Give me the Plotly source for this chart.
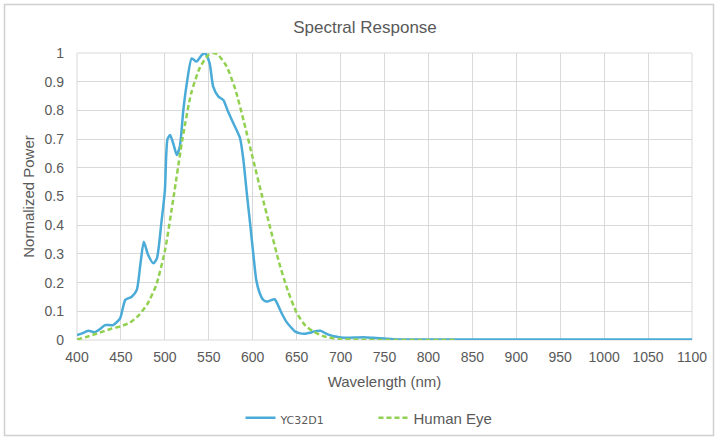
import plotly.graph_objects as go

# ---- data ----
yc_wavelength = [400, 405, 413, 420, 427, 432, 441, 449, 455, 462, 468, 472, 476, 481, 487, 491,
                 496, 500, 503, 506, 510, 513.5, 517, 521, 525, 530.6, 536, 542, 546, 551, 555,
                 561, 566.6, 572, 578, 585.6, 589.4, 593, 597, 601, 604, 608, 612, 616, 620, 625,
                 629, 633, 638, 643, 648, 654, 660, 665, 670, 677, 682, 688, 694, 700, 710, 720,
                 730, 740, 750, 760, 780, 800, 850, 900, 950, 1000, 1050, 1100]
yc_power = [0.017, 0.022, 0.032, 0.027, 0.040, 0.052, 0.052, 0.075, 0.140, 0.150, 0.174, 0.260,
            0.342, 0.296, 0.267, 0.285, 0.407, 0.520, 0.700, 0.714, 0.680, 0.645, 0.673, 0.800,
            0.894, 0.981, 0.970, 0.993, 0.999, 0.964, 0.883, 0.848, 0.836, 0.795, 0.755, 0.703,
            0.627, 0.520, 0.407, 0.290, 0.210, 0.163, 0.140, 0.134, 0.138, 0.142, 0.120, 0.093,
            0.065, 0.046, 0.030, 0.023, 0.022, 0.025, 0.030, 0.032, 0.025, 0.017, 0.012, 0.009,
            0.008, 0.009, 0.009, 0.007, 0.005, 0.003, 0.002, 0.002, 0.002, 0.002, 0.002, 0.002,
            0.002, 0.002]

eye_wavelength = [400, 410, 420, 430, 440, 450, 460, 470, 480, 490, 500, 510, 520, 530, 540, 550,
                  555, 560, 570, 580, 590, 600, 610, 620, 630, 640, 650, 660, 670, 680, 690, 700,
                  720, 750, 800, 830]
eye_power = [0.002, 0.010, 0.020, 0.030, 0.040, 0.048, 0.060, 0.085, 0.125, 0.190, 0.310, 0.500,
             0.700, 0.860, 0.950, 0.995, 1.000, 0.995, 0.955, 0.875, 0.760, 0.635, 0.510, 0.390,
             0.270, 0.172, 0.095, 0.050, 0.028, 0.014, 0.007, 0.003, 0.001, 0.0, 0.0, 0.0]

x_ticks = list(range(400, 1101, 50))
y_ticks = [round(i * 0.1, 1) for i in range(11)]
y_tick_text = ["0", "0.1", "0.2", "0.3", "0.4", "0.5", "0.6", "0.7", "0.8", "0.9", "1"]

TXT = "#595959"
GRID = "#d9d9d9"
FONT = "Liberation Sans, Arial, sans-serif"

fig = go.Figure()
fig.add_trace(go.Scatter(
    x=yc_wavelength, y=yc_power, mode="lines",
    name="<span style='font-family:DejaVu Sans;font-size:11px'>YC32D1</span>",
    line=dict(color="#4aabd8", width=2.5, shape="spline", smoothing=0.6),
))
fig.add_trace(go.Scatter(
    x=eye_wavelength, y=eye_power, mode="lines", name="Human Eye",
    line=dict(color="#92d050", width=2.5, dash="5px,3px", shape="spline", smoothing=0.6),
))

L, R, T, B = 77, 26, 53, 98
W, H = 718, 438
pw, ph = W - L - R, H - T - B

def px_to_paper_x(px):
    return (px - L) / pw

def py_to_paper_y(py):
    return (H - B - py) / ph

fig.update_layout(
    width=W, height=H,
    margin=dict(l=L, r=R, t=T, b=B, autoexpand=False),
    paper_bgcolor="white", plot_bgcolor="white",
    font=dict(family=FONT, color=TXT, size=14),
    title=dict(text="Spectral Response", x=px_to_paper_x(365), xref="paper",
               xanchor="center", y=1 - 27 / H, yanchor="middle",
               font=dict(size=17, color=TXT, family=FONT)),
    xaxis=dict(range=[400, 1100], tickvals=x_ticks, showgrid=True, gridcolor=GRID, gridwidth=1,
               zeroline=False, showline=False, ticks="", tickfont=dict(size=14, color=TXT),
               ticklabelstandoff=7, automargin=False,
               title=dict(text="Wavelength (nm)", font=dict(size=15, color=TXT), standoff=12)),
    yaxis=dict(range=[0, 1], tickvals=y_ticks, ticktext=y_tick_text, showgrid=True,
               gridcolor=GRID, gridwidth=1, zeroline=False, showline=False, ticks="",
               tickfont=dict(size=14, color=TXT), ticklabelstandoff=12, automargin=False,
               title=dict(text="Normalized Power", font=dict(size=15, color=TXT), standoff=6)),
    legend=dict(orientation="h", x=px_to_paper_x(373.5), xanchor="center",
                y=py_to_paper_y(418), yanchor="middle",
                font=dict(size=15, color=TXT, family=FONT),
                entrywidth=88, entrywidthmode="pixels", bgcolor="rgba(0,0,0,0)"),
    showlegend=True,
)

# plot-area border and outer chart border
fig.add_shape(type="rect", xref="paper", yref="paper", x0=0, x1=1, y0=0, y1=1,
              line=dict(color=GRID, width=1), layer="below")
fig.add_shape(type="rect", xref="paper", yref="paper",
              x0=px_to_paper_x(4.5), x1=px_to_paper_x(713.5),
              y0=py_to_paper_y(435.5), y1=py_to_paper_y(4.5),
              line=dict(color="#d0d0d0", width=1.5))

fig.write_html("out.html", config={"displayModeBar": False},
               post_script="document.body.style.margin='0';document.body.style.overflow='hidden';")
